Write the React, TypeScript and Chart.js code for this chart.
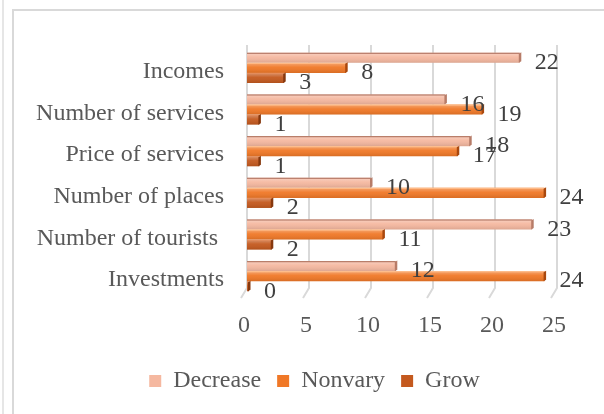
import React, { useEffect, useRef } from "react";
import { Chart, registerables } from "chart.js";

Chart.register(...registerables);

const categories = [
  "Incomes",
  "Number of services",
  "Price of services",
  "Number of places",
  "Number of tourists ",
  "Investments",
];
const decrease = [22, 16, 18, 10, 23, 12];
const nonvary = [8, 19, 17, 24, 11, 24];
const grow = [3, 1, 1, 2, 2, 0];
const seriesNames = ["Decrease", "Nonvary", "Grow"];
const xTicks = [0, 5, 10, 15, 20, 25];

const FONT = '"Liberation Serif", "Times New Roman", serif';
const FONT_SIZE = 24;
const AXIS_COLOR = "#595959";
const LABEL_COLOR = "#404040";
const GRID_COLOR = "#D9D9D9";

const fillColors = ["#F5B8A0", "#F07827", "#C4591E"];
const capColors = ["#B77C68", "#A9480E", "#86380E"];
const topEdgeColors = ["rgba(160,95,75,0.75)", "rgba(255,190,140,0.9)", "rgba(230,140,90,0.8)"];

export default function App() {
  const ref = useRef<HTMLCanvasElement | null>(null);

  useEffect(() => {
    const canvas = ref.current;
    if (!canvas) return;

    const deco = {
      id: "deco",
      afterLayout(chart: any) {
        const lg = chart.legend;
        if (lg) {
          lg.left += 36;
          lg.right += 36;
        }
      },
      beforeDatasetsDraw(chart: any) {
        const ctx = chart.ctx;
        const xs = chart.scales.x;
        const area = chart.chartArea;
        ctx.save();
        ctx.strokeStyle = GRID_COLOR;
        ctx.lineWidth = 2;
        xTicks.forEach((v) => {
          const px = xs.getPixelForValue(v);
          ctx.beginPath();
          ctx.moveTo(px, area.top - 2);
          ctx.lineTo(px, area.bottom - 9);
          ctx.lineTo(px - 6, area.bottom + 1);
          ctx.stroke();
        });
        ctx.restore();
      },
      afterDatasetsDraw(chart: any) {
        const ctx = chart.ctx;
        ctx.save();
        const items: { text: string; x: number; y: number }[] = [];
        chart.data.datasets.forEach((ds: any, di: number) => {
          const meta = chart.getDatasetMeta(di);
          meta.data.forEach((bar: any, i: number) => {
            const p = bar.getProps(["x", "y", "base", "height"], true);
            const top = p.y - p.height / 2;
            const bottom = p.y + p.height / 2;
            const left = Math.min(p.x, p.base);
            const right = Math.max(p.x, p.base);
            const w = right - left;
            const g = ctx.createLinearGradient(0, top, 0, bottom);
            g.addColorStop(0, "rgba(255,255,255,0.35)");
            g.addColorStop(0.45, "rgba(255,255,255,0.05)");
            g.addColorStop(1, "rgba(0,0,0,0.10)");
            ctx.fillStyle = g;
            ctx.fillRect(left, top, w, p.height);
            ctx.fillStyle = topEdgeColors[di];
            ctx.fillRect(left, top, w, 1.2);
            ctx.fillStyle = capColors[di];
            ctx.beginPath();
            ctx.moveTo(right - 1, top + 1);
            ctx.lineTo(right + 1.5, top - 0.5);
            ctx.lineTo(right + 1.5, bottom - 1.5);
            ctx.lineTo(right - 1, bottom);
            ctx.closePath();
            ctx.fill();
            items.push({ text: String(ds.data[i]), x: right + 15, y: p.y + 5 });
          });
        });
        ctx.font = `${FONT_SIZE}px ${FONT}`;
        ctx.fillStyle = LABEL_COLOR;
        ctx.textAlign = "left";
        ctx.textBaseline = "middle";
        items.forEach((it) => ctx.fillText(it.text, it.x, it.y));
        ctx.restore();
      },
    };

    const seriesData = [decrease, nonvary, grow];

    const chart = new Chart(canvas, {
      type: "bar",
      data: {
        labels: categories,
        datasets: seriesData.map((d, i) => ({
          label: seriesNames[i],
          data: d,
          backgroundColor: fillColors[i],
          borderWidth: 0,
          categoryPercentage: 0.726,
          barPercentage: 1,
          minBarLength: 2,
        })),
      },
      options: {
        indexAxis: "y",
        responsive: false,
        maintainAspectRatio: false,
        animation: false,
        devicePixelRatio: 1,
        layout: { padding: { top: 47, right: 47, left: 0, bottom: 11 } },
        scales: {
          x: {
            min: 0,
            max: 25,
            afterBuildTicks: (s: any) => {
              s.ticks = xTicks.map((v) => ({ value: v }));
            },
            ticks: {
              font: { family: FONT, size: FONT_SIZE },
              color: AXIS_COLOR,
              padding: 14,
              labelOffset: -3,
            },
            grid: { display: false, drawTicks: false },
            border: { display: false },
            afterFit: (s: any) => {
              s.height = 56;
            },
          },
          y: {
            ticks: {
              font: { family: FONT, size: FONT_SIZE },
              color: AXIS_COLOR,
              padding: 23,
              labelOffset: 4,
            },
            grid: { display: false, drawTicks: false },
            border: { display: false },
            afterFit: (s: any) => {
              s.width = 247;
            },
          },
        },
        plugins: {
          legend: {
            position: "bottom",
            labels: {
              boxWidth: 12,
              boxHeight: 12,
              padding: 16,
              font: { family: FONT, size: FONT_SIZE },
              color: AXIS_COLOR,
            },
          },
          tooltip: { enabled: false },
        },
      },
      plugins: [deco],
    } as any);

    return () => chart.destroy();
  }, []);

  return (
    <div
      style={{
        position: "fixed",
        left: 0,
        top: 0,
        width: 604,
        height: 414,
        background: "#ffffff",
        overflow: "hidden",
      }}
    >
      <div
        style={{
          position: "absolute",
          left: 2,
          top: 0,
          width: 2,
          height: 414,
          background: "#E6E6E6",
        }}
      />
      <div
        style={{
          position: "absolute",
          left: 12,
          top: 9,
          width: 620,
          height: 430,
          borderLeft: "2px solid #D9D9D9",
          borderTop: "2px solid #D9D9D9",
        }}
      />
      <canvas
        ref={ref}
        width={604}
        height={414}
        style={{ position: "absolute", left: 0, top: 0, width: 604, height: 414 }}
      />
    </div>
  );
}
